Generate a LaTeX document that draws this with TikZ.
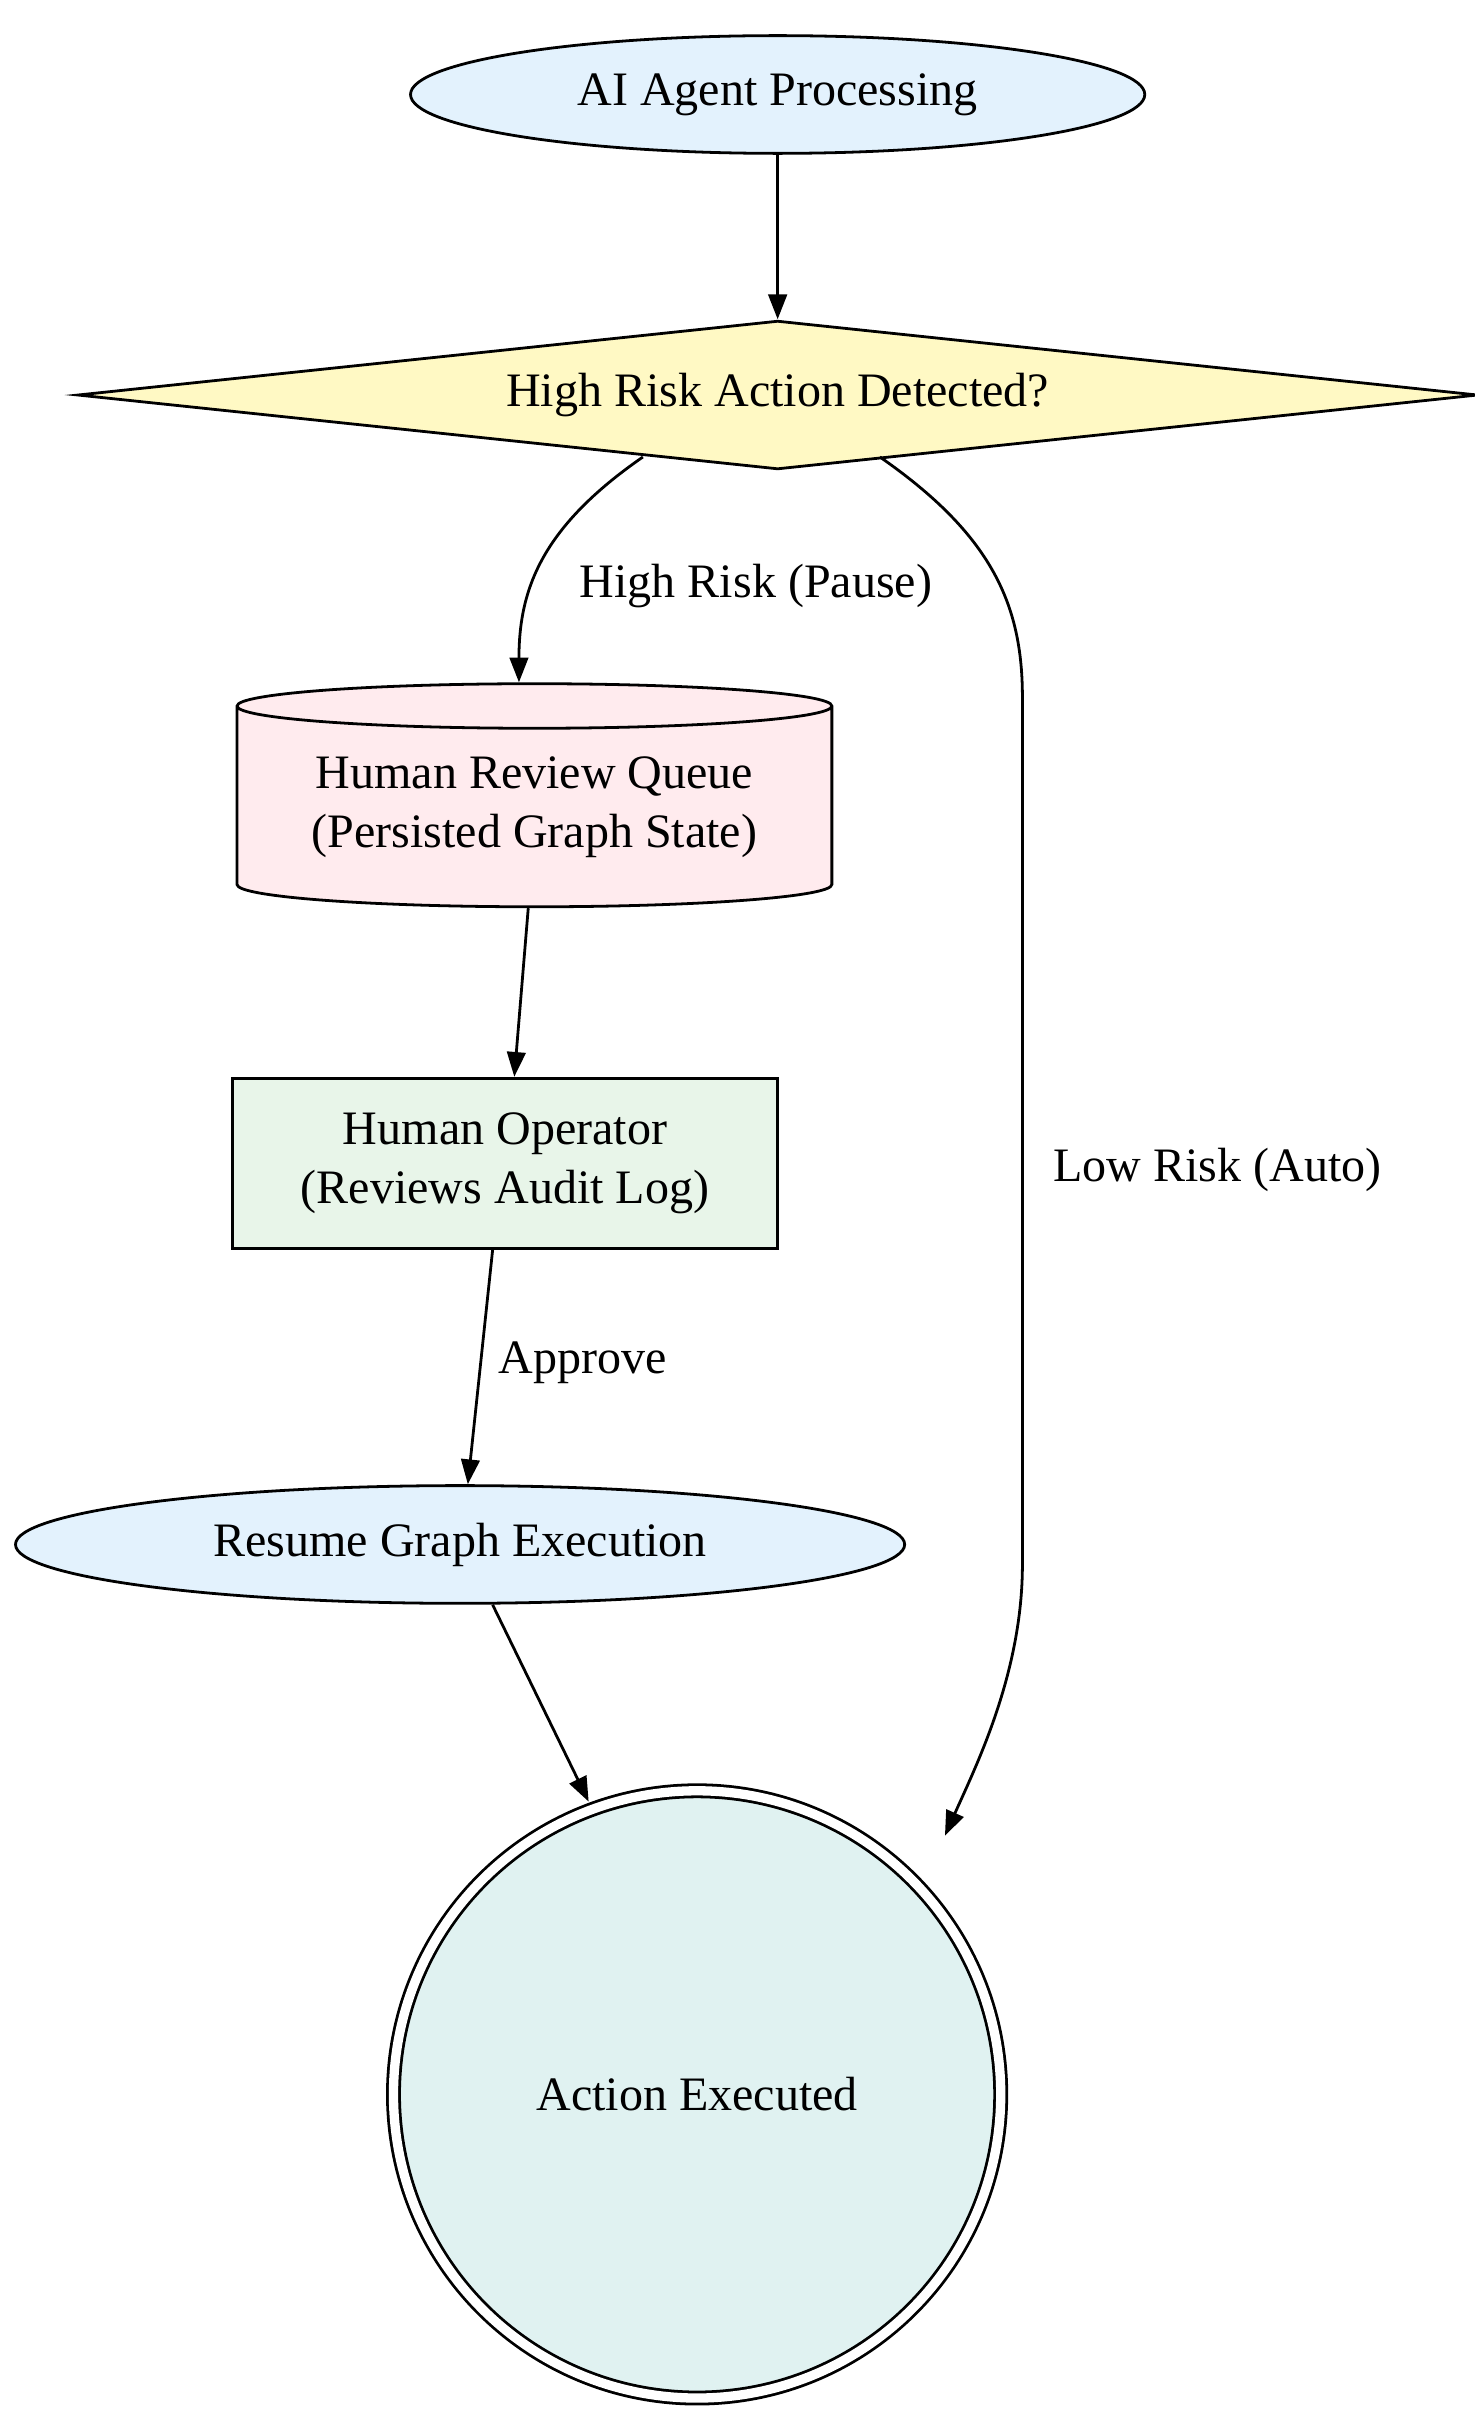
\documentclass[tikz,border=0pt]{standalone}
\usepackage{fontspec}
\setmainfont{Liberation Serif}
\usetikzlibrary{shapes.geometric,arrows.meta}
\definecolor{agentblue}{HTML}{E3F2FD}
\definecolor{riskyellow}{HTML}{FFF9C4}
\definecolor{queuepink}{HTML}{FFEBEE}
\definecolor{opgreen}{HTML}{E8F5E9}
\definecolor{donecyan}{HTML}{E0F2F1}
\tikzset{every picture/.style={line width=0.9pt}}
\tikzset{
  box/.style={draw=black, font=\fontsize{15.5}{19}\selectfont, align=center, inner sep=0pt},
  flow/.style={-{Triangle[length=8pt,width=6pt]}},
  lbl/.style={font=\fontsize{15.5}{19}\selectfont, inner sep=1pt}
}
\begin{document}
\begin{tikzpicture}[x=0.5pt,y=-0.5pt]
  \useasboundingbox (0,0) rectangle (952,1568);
  % nodes
  \node (agent) [box, ellipse, fill=agentblue, minimum width=237pt, minimum height=38pt] at (502,61) {AI Agent Processing};
  \node (check) [box, diamond, aspect=9.4, fill=riskyellow, minimum width=452pt, minimum height=48pt] at (502,255) {High Risk Action Detected?};
  \node (queue) [box, cylinder, shape border rotate=90, aspect=0.1, fill=queuepink, minimum width=192pt, minimum height=72pt] at (345,521) {Human Review Queue\\(Persisted Graph State)};
  \node (oper) [box, rectangle, fill=opgreen, minimum width=176pt, minimum height=55pt] at (326,751) {Human Operator\\(Reviews Audit Log)};
  \node (resume) [box, ellipse, fill=agentblue, minimum width=287pt, minimum height=38pt] at (297,997) {Resume Graph Execution};
  \node (done) [box, circle, double, double distance=3pt, fill=donecyan, minimum size=196pt] at (450,1352) {Action Executed};
  % connectors
  \coordinate (riskL) at (415,295);
  \coordinate (riskR) at (568,295);
  \draw [flow] (agent) -- (check);
  \draw [flow] (riskL) .. controls (350,340) and (335,380) .. (queue.north -| 335,0);
  \node (hiLbl) [lbl] at (488,378) {High Risk (Pause)};
  \draw [flow] (riskR) .. controls (640,345) and (660,390) .. (660,450) -- (660,1010)
    .. controls (660,1080) and (630,1140) .. (610,1185);
  \node (loLbl) [lbl] at (786,755) {Low Risk (Auto)};
  \draw [flow] (queue.south -| 341,0) -- (oper.north -| 332,0);
  \draw [flow] (oper.south -| 318,0) -- (resume.north -| 302,0);
  \node (okLbl) [lbl] at (376,880) {Approve};
  \draw [flow] (resume.south -| 318,0) -- (380,1163);
\end{tikzpicture}
\end{document}
